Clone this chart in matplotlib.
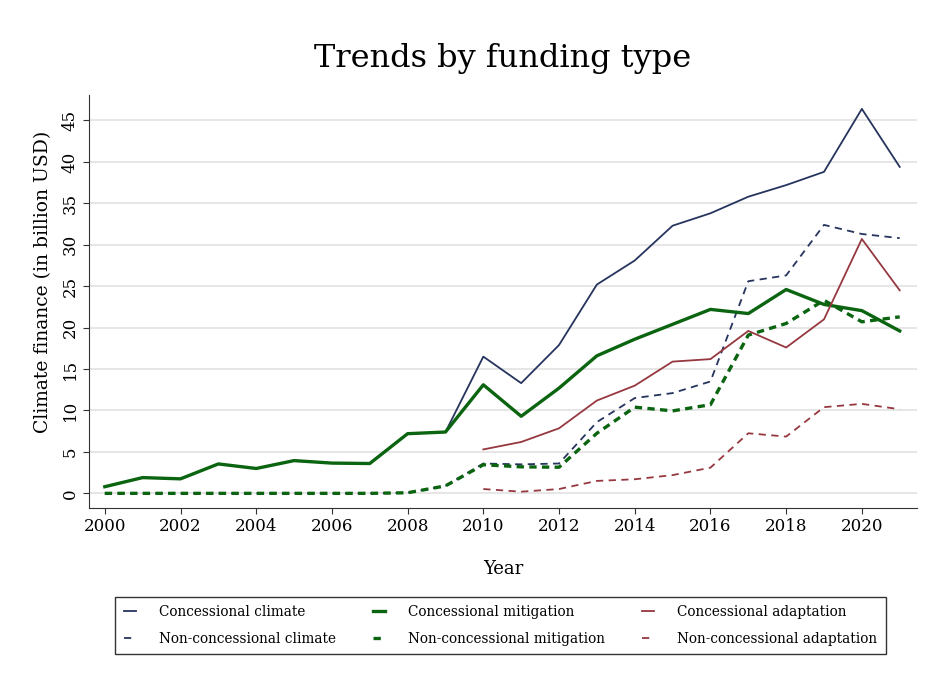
import numpy as np
import matplotlib
matplotlib.use("Agg")
import matplotlib.pyplot as plt

plt.rcParams['font.family'] = ['DejaVu Serif']

years = np.arange(2000, 2022)
years_ad = np.arange(2010, 2022)

# concessional flows (billion USD)
conc_climate = [0.8, 1.9, 1.75, 3.55, 3.0, 3.95, 3.65, 3.6, 7.2, 7.4,
                16.5, 13.3, 17.9, 25.2, 28.1, 32.3, 33.8, 35.8, 37.2, 38.8, 46.4, 39.4]
conc_mitigation = [0.8, 1.9, 1.75, 3.55, 3.0, 3.95, 3.65, 3.6, 7.2, 7.4,
                   13.1, 9.3, 12.7, 16.6, 18.6, 20.4, 22.2, 21.7, 24.6, 22.8, 22.05, 19.6]
conc_adaptation = [5.3, 6.2, 7.85, 11.2, 13.0, 15.9, 16.2, 19.6, 17.6, 21.0, 30.7, 24.5]

# non-concessional flows
nonconc_climate = [0, 0, 0, 0, 0, 0, 0, 0, 0.07, 0.9,
                   3.6, 3.5, 3.6, 8.6, 11.5, 12.1, 13.5, 25.6, 26.3, 32.4, 31.3, 30.8]
nonconc_mitigation = [0, 0, 0, 0, 0, 0, 0, 0, 0.07, 0.9,
                      3.45, 3.2, 3.15, 7.25, 10.4, 9.95, 10.7, 19.1, 20.5, 23.3, 20.7, 21.3]
nonconc_adaptation = [0.52, 0.2, 0.52, 1.5, 1.7, 2.2, 3.1, 7.25, 6.85, 10.4, 10.8, 10.15]

navy = '#26345e'
green = '#0b6410'
red = '#96383f'

fig = plt.figure(figsize=(9.26, 6.82), dpi=100)
ax = fig.add_axes([0.096, 0.255, 0.894, 0.606])

l1, = ax.plot(years, conc_climate, color=navy, lw=1.3, label='Concessional climate')
l2, = ax.plot(years, nonconc_climate, color=navy, lw=1.3, ls=(0, (4, 3)),
              label='Non-concessional climate')
l3, = ax.plot(years, conc_mitigation, color=green, lw=2.4, label='Concessional mitigation')
l4, = ax.plot(years, nonconc_mitigation, color=green, lw=2.4, ls=(0, (2.2, 1.6)),
              label='Non-concessional mitigation')
l5, = ax.plot(years_ad, conc_adaptation, color=red, lw=1.3, label='Concessional adaptation')
l6, = ax.plot(years_ad, nonconc_adaptation, color=red, lw=1.3, ls=(0, (4, 3)),
              label='Non-concessional adaptation')

ax.set_xlim(1999.58, 2021.45)
ax.set_ylim(-1.78, 48.1)
ax.set_xticks(np.arange(2000, 2021, 2))
ax.set_yticks(np.arange(0, 46, 5))
ax.tick_params(axis='both', labelsize=12, length=4, color='#333333')
ax.tick_params(axis='x', pad=3)
plt.setp(ax.get_yticklabels(), rotation=90, va='center')
ax.grid(axis='y', color='#e4e4e4', lw=1.3)
ax.set_axisbelow(True)
for s in ['top', 'right']:
    ax.spines[s].set_visible(False)
for s in ['left', 'bottom']:
    ax.spines[s].set_color('#333333')

ax.set_xlabel('Year', fontsize=13, labelpad=18)
ax.set_ylabel('Climate finance (in billion USD)', fontsize=13.5)
ax.yaxis.set_label_coords(-0.045, 0.547)
ax.set_title('Trends by funding type', fontsize=23, pad=20)

leg = fig.legend(handles=[l1, l2, l3, l4, l5, l6], ncol=3, loc='upper center',
                 bbox_to_anchor=(0.5405, 1 - 597 / 682), fontsize=9.8, frameon=True,
                 fancybox=False, edgecolor='black', handlelength=0.9,
                 borderpad=0.6, borderaxespad=0, handletextpad=1.7,
                 columnspacing=2.7, labelspacing=0.95)
leg.get_frame().set_linewidth(1.0)

fig.savefig('out.png', dpi=100)
